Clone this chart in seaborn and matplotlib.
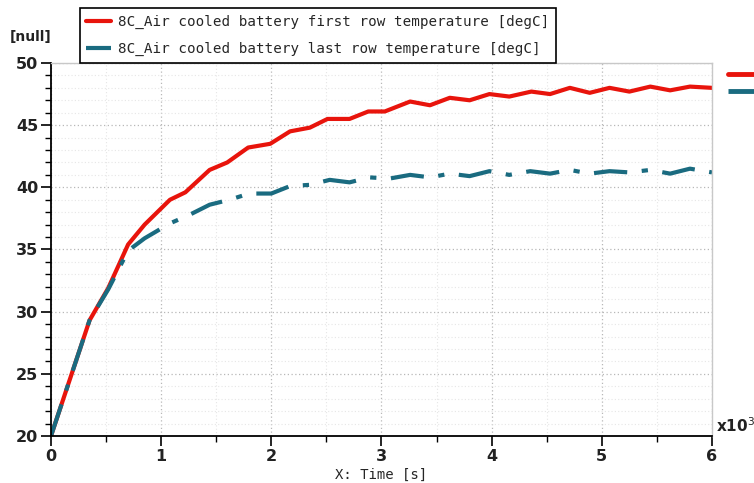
import numpy as np
import pandas as pd
import seaborn as sns
import matplotlib.pyplot as plt
from matplotlib.ticker import MultipleLocator
from matplotlib.lines import Line2D

# time in units of 1e3 s
time_first = [0.0, 0.35, 0.52, 0.70, 0.85, 1.08, 1.22, 1.44, 1.60, 1.79, 1.99, 2.17, 2.35,
              2.51, 2.71, 2.88, 3.03, 3.26, 3.44, 3.62, 3.80, 3.98, 4.16, 4.36, 4.53, 4.71,
              4.89, 5.07, 5.25, 5.44, 5.62, 5.80, 6.0]
temp_first = [20.0, 29.3, 31.9, 35.4, 37.0, 39.0, 39.6, 41.4, 42.0, 43.2, 43.5, 44.5, 44.8,
              45.5, 45.5, 46.1, 46.1, 46.9, 46.6, 47.2, 47.0, 47.5, 47.3, 47.7, 47.5, 48.0,
              47.6, 48.0, 47.7, 48.1, 47.8, 48.1, 48.0]

time_last = [0.0, 0.35, 0.52, 0.70, 0.85, 1.08, 1.26, 1.44, 1.62, 1.80, 2.00, 2.17, 2.35,
             2.53, 2.71, 2.89, 3.07, 3.26, 3.44, 3.62, 3.80, 3.98, 4.16, 4.35, 4.53, 4.71,
             4.89, 5.07, 5.25, 5.44, 5.62, 5.80, 6.0]
temp_last = [20.0, 29.3, 31.8, 34.9, 35.9, 37.1, 37.8, 38.6, 39.0, 39.5, 39.5, 40.1, 40.2,
             40.6, 40.4, 40.8, 40.7, 41.0, 40.8, 41.1, 40.9, 41.3, 41.0, 41.3, 41.1, 41.4,
             41.1, 41.3, 41.2, 41.4, 41.1, 41.5, 41.2]

label_first = "8C_Air cooled battery first row temperature [degC]"
label_last = "8C_Air cooled battery last row temperature [degC]"

red = "#e8140c"
teal = "#1a6b80"
dashdot = [8, 3.5, 1.5, 3.5]

df = pd.concat([
    pd.DataFrame({"t": time_first, "T": temp_first, "series": label_first}),
    pd.DataFrame({"t": time_last, "T": temp_last, "series": label_last}),
])

sns.set_style("white")
fig = plt.figure(figsize=(7.54, 4.83), dpi=100)
ax = fig.add_axes([0.0676, 0.0973, 0.8767, 0.7723])

sns.lineplot(data=df[df.series == label_first], x="t", y="T", color=red, lw=3, ax=ax,
             label=label_first, legend=False)
sns.lineplot(data=df[df.series == label_last], x="t", y="T", color=teal, lw=3, ax=ax,
             label=label_last, legend=False)
ax.lines[1].set_dashes(dashdot)

ax.set_xlim(0, 6)
ax.set_ylim(20, 50)
ax.xaxis.set_major_locator(MultipleLocator(1))
ax.xaxis.set_minor_locator(MultipleLocator(0.5))
ax.yaxis.set_major_locator(MultipleLocator(5))
ax.yaxis.set_minor_locator(MultipleLocator(1))
ax.grid(which="major", color="#b8b8b8", ls=(0, (1, 2)), lw=0.9)
ax.grid(which="minor", color="#e6e6e6", ls=(0, (1, 2)), lw=0.8)
ax.tick_params(which="major", direction="out", length=7, width=1.2, color="black",
               labelsize=11.5, pad=2, left=True, bottom=True)
ax.tick_params(which="minor", direction="out", length=4, width=1, color="black",
               left=True, bottom=True)
for lab in ax.get_xticklabels() + ax.get_yticklabels():
    lab.set_fontweight("bold")
    lab.set_color("#222222")

for s in ["left", "bottom"]:
    ax.spines[s].set_color("black")
    ax.spines[s].set_linewidth(1.3)
for s in ["top", "right"]:
    ax.spines[s].set_color("#c8c8c8")
    ax.spines[s].set_linewidth(1)

ax.set_xlabel("X: Time [s]", family="DejaVu Sans Mono", fontsize=10, labelpad=0)
ax.xaxis.set_label_coords(0.5, -0.085)
ax.set_ylabel("")
fig.text(0.013, 0.915, "[null]", fontsize=10, fontweight="bold", color="#222222")
fig.text(0.949, 0.105, "x10$^3$", fontsize=11, fontweight="bold", color="#222222")

leg = ax.legend(loc="upper left", bbox_to_anchor=(0.044, 1.147), borderaxespad=0,
                frameon=True, fancybox=False,
                prop={"family": "DejaVu Sans Mono", "size": 10.3}, handlelength=1.7,
                borderpad=0.45, labelspacing=0.95, handletextpad=0.5)
leg.get_frame().set_edgecolor("black")
leg.get_frame().set_linewidth(1.2)
leg.get_frame().set_alpha(1)

# clipped duplicate legend marks at the right edge
handles = [Line2D([], [], color=red, lw=3.5), Line2D([], [], color=teal, lw=3.5, dashes=dashdot)]
fig.legend(handles, ["", ""], loc="upper left", bbox_to_anchor=(0.958, 0.872), frameon=False,
           handlelength=2.2, labelspacing=0.25, borderaxespad=0)

fig.savefig("out.png", dpi=100)
